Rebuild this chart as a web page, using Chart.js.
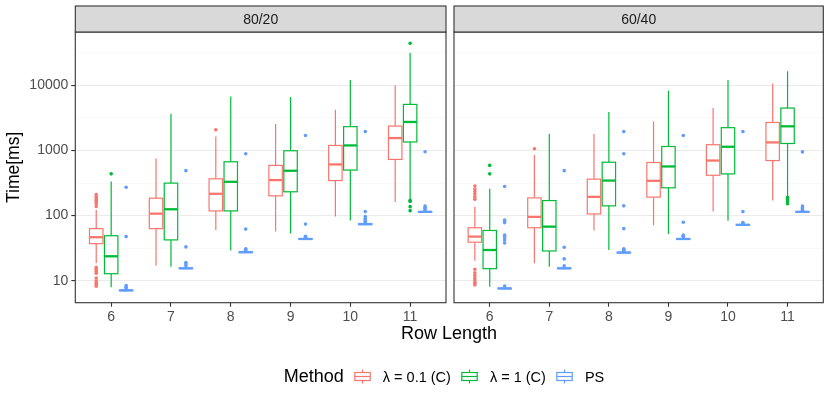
<!DOCTYPE html>
<html>
<head>
<meta charset="utf-8">
<script src="https://cdn.jsdelivr.net/npm/chart.js@4.4.1/dist/chart.umd.min.js"></script>
<style>
  body { margin: 0; background: #fff; overflow: hidden; font-family: "Liberation Sans", Arial, sans-serif; }
  #wrap { position: relative; width: 830px; height: 399px; background: #fff; }
  canvas { position: absolute; top: 0; }
  #xtitle { position: absolute; left: 69px; width: 760px; top: 323px; text-align: center; font-size: 18px; color: #000; }
  #legend { position: absolute; left: 87px; width: 724px; top: 366px; display: flex; justify-content: center; align-items: center; font-size: 14.5px; color: #000; }
  #legend .ttl { font-size: 18px; margin-right: 10px; }
  #legend svg { margin-right: 12px; }
  #legend .lab { margin-right: 10px; }
</style>
</head>
<body>
<div id="wrap">
  <canvas id="c1" width="450" height="399" style="left:0"></canvas>
  <canvas id="c2" width="380" height="399" style="left:450px"></canvas>
  <div id="xtitle">Row Length</div>
  <div id="legend"></div>
</div>
<script>
const rowLengths = [6, 7, 8, 9, 10, 11];
const methodNames = ['λ = 0.1 (C)', 'λ = 1 (C)', 'PS'];
const methodColors = ['#F8766D', '#00BA38', '#619CFF'];
const panelTitles = ['80/20', '60/40'];
const yTicks = [10, 100, 1000, 10000];
const yMinor = [31.6228, 316.228, 3162.28, 31622.8];

// [lower whisker, q1, median, q3, upper whisker] per row length
const lam01_8020 = [
  [18.5, 37, 46.5, 63, 122],
  [17, 63, 107, 185, 753],
  [60, 118, 216, 367, 1640],
  [57, 201, 351, 590, 2550],
  [97, 345, 610, 1195, 4230],
  [161, 728, 1550, 2370, 10000]
];
const lam01_8020_out = [
  [210, 195, 182, 172, 162, 150, 138, 16, 15, 14, 13, 11, 10, 9.4, 8.8, 8.2],
  [], [2080], [], [], []
];
const lam1_8020 = [
  [7.9, 12.8, 23.7, 49, 333],
  [16.4, 42.3, 125, 315, 3670],
  [29, 118, 330, 670, 6760],
  [53, 232, 488, 990, 6600],
  [84, 500, 1195, 2320, 12100],
  [179, 1350, 2740, 5100, 31500]
];
const lam1_8020_out = [[437], [], [], [], [], [44300, 172, 165, 137, 119]];
const ps_8020 = [
  [6.9, 7.0, 7.1, 7.2, 7.4],
  [15, 15.3, 15.5, 15.7, 16.3],
  [26.5, 27, 27.4, 27.8, 28.5],
  [42.5, 43.2, 43.7, 44.2, 45.2],
  [71, 72.5, 74, 75, 77],
  [110, 112.5, 114, 115.5, 118]
];
const ps_8020_out = [
  [273, 47.5, 8.4, 7.9, 7.7],
  [490, 33, 19, 18, 17],
  [890, 62, 31, 30, 29],
  [1700, 74, 48, 47, 46],
  [1950, 115, 97, 90, 86, 82, 78],
  [955, 140, 133, 127, 122]
];

const lam01_6040 = [
  [20.3, 39, 47.5, 65, 137],
  [18.5, 65, 95.6, 187, 850],
  [59, 106, 194, 363, 1790],
  [71, 192, 342, 653, 2790],
  [115, 416, 700, 1225, 4480],
  [170, 700, 1330, 2690, 10700]
];
const lam01_6040_out = [
  [285, 255, 235, 215, 195, 178, 15, 13.2, 12, 11, 10.2, 9.5, 9, 8.6],
  [1060], [], [], [], []
];
const lam1_6040 = [
  [8.1, 15.3, 29.6, 59, 258],
  [16.4, 28.6, 67.6, 170, 1800],
  [29.6, 141, 345, 660, 3890],
  [52, 267, 568, 1150, 8280],
  [83, 437, 1140, 2240, 12100],
  [200, 1280, 2350, 4480, 16400]
];
const lam1_6040_out = [[590, 437], [], [], [], [], [190, 178, 165, 152]];
const ps_6040 = [
  [7.3, 7.5, 7.6, 7.7, 7.9],
  [15, 15.3, 15.5, 15.7, 16.3],
  [26, 26.6, 27, 27.4, 28],
  [42.5, 43.2, 43.7, 44.2, 45.5],
  [70, 71, 72, 73, 74],
  [110, 112.5, 114, 115.5, 118]
];
const ps_6040_out = [
  [280, 85, 78, 50, 46, 42, 38, 8.3],
  [490, 32.6, 21.6, 17],
  [1950, 890, 141, 63, 31, 30, 29, 28],
  [1700, 79, 50, 48, 47],
  [1950, 115, 78, 76],
  [950, 140, 132, 126, 121]
];

const panels = [
  { boxes: [lam01_8020, lam1_8020, ps_8020], outliers: [lam01_8020_out, lam1_8020_out, ps_8020_out] },
  { boxes: [lam01_6040, lam1_6040, ps_6040], outliers: [lam01_6040_out, lam1_6040_out, ps_6040_out] }
];

const FONT = '"Liberation Sans", Arial, sans-serif';
const dodge = [-0.25, 0, 0.25];
const halfBox = 0.1125;

// boxes + whiskers, drawn under the outlier points
const boxPlugin = {
  id: 'boxes',
  beforeDatasetsDraw(chart) {
    const p = panels[chart.options.panelIndex];
    const x = chart.scales.x, y = chart.scales.y;
    const ctx = chart.ctx;
    ctx.save();
    p.boxes.forEach((series, m) => {
      ctx.strokeStyle = methodColors[m];
      series.forEach((s, i) => {
        const cx = x.getPixelForValue(i + 1 + dodge[m]);
        const x0 = x.getPixelForValue(i + 1 + dodge[m] - halfBox);
        const x1 = x.getPixelForValue(i + 1 + dodge[m] + halfBox);
        const [lo, q1, med, q3, hi] = s.map(v => y.getPixelForValue(v));
        ctx.lineWidth = 1.2;
        ctx.beginPath();
        ctx.moveTo(cx, hi); ctx.lineTo(cx, q3);
        ctx.moveTo(cx, q1); ctx.lineTo(cx, lo);
        ctx.stroke();
        ctx.fillStyle = '#fff';
        ctx.fillRect(x0, q3, x1 - x0, q1 - q3);
        ctx.strokeRect(x0, q3, x1 - x0, q1 - q3);
        ctx.lineWidth = 2.3;
        ctx.beginPath();
        ctx.moveTo(x0, med); ctx.lineTo(x1, med);
        ctx.stroke();
      });
    });
    ctx.restore();
  },
  afterDraw(chart) {
    const a = chart.chartArea, ctx = chart.ctx;
    ctx.save();
    ctx.strokeStyle = '#333';
    ctx.lineWidth = 1.1;
    ctx.strokeRect(a.left, a.top, a.right - a.left, a.bottom - a.top);
    // facet strip
    ctx.fillStyle = '#D9D9D9';
    ctx.fillRect(a.left, 6, a.right - a.left, a.top - 6);
    ctx.strokeRect(a.left, 6, a.right - a.left, a.top - 6);
    ctx.fillStyle = '#1A1A1A';
    ctx.font = '14px ' + FONT;
    ctx.textAlign = 'center';
    ctx.textBaseline = 'middle';
    ctx.fillText(panelTitles[chart.options.panelIndex], (a.left + a.right) / 2, (6 + a.top) / 2 + 1);
    ctx.restore();
  }
};

function makePanel(id, idx, isLeft) {
  const p = panels[idx];
  const datasets = p.outliers.map((series, m) => ({
    label: methodNames[m],
    data: series.flatMap((vals, i) => vals.map(v => ({ x: i + 1 + dodge[m], y: v }))),
    backgroundColor: methodColors[m],
    borderWidth: 0,
    pointRadius: 1.8
  }));
  return new Chart(document.getElementById(id), {
    type: 'scatter',
    data: { datasets },
    plugins: [boxPlugin],
    options: {
      panelIndex: idx,
      responsive: false,
      animation: false,
      devicePixelRatio: 1,
      events: [],
      layout: { padding: { top: 32, bottom: 72.3, left: isLeft ? 0 : 2.7, right: isLeft ? 4 : 6.7 } },
      plugins: { legend: { display: false }, tooltip: { enabled: false } },
      scales: {
        x: {
          type: 'linear', min: 0.4, max: 6.6,
          afterBuildTicks: s => { s.ticks = rowLengths.map((r, i) => ({ value: i + 1 })); },
          afterFit: s => { s.height = 24; },
          ticks: { callback: v => String(rowLengths[v - 1]), color: '#4D4D4D', font: { size: 14, family: FONT }, padding: 2, maxRotation: 0 },
          grid: { drawOnChartArea: false, drawTicks: true, tickLength: 4, tickColor: '#333', tickWidth: 1.1 },
          border: { display: false }
        },
        y: {
          type: 'logarithmic', min: 4.59, max: 66000,
          afterBuildTicks: s => { s.ticks = yTicks.concat(yMinor).map(v => ({ value: v })); },
          afterFit: s => { s.width = isLeft ? 75.3 : 0; },
          ticks: { display: isLeft, autoSkip: false, callback: v => yTicks.includes(v) ? String(v) : '', color: '#4D4D4D', font: { size: 14, family: FONT }, padding: 3 },
          grid: {
            color: c => (c.tick && yTicks.includes(c.tick.value)) ? '#EBEBEB' : '#F4F4F4',
            lineWidth: c => (c.tick && yTicks.includes(c.tick.value)) ? 1.1 : 0.6,
            tickColor: c => (isLeft && c.tick && yTicks.includes(c.tick.value)) ? '#333' : 'rgba(0,0,0,0)',
            drawTicks: isLeft, tickLength: 4, tickWidth: 1.1
          },
          border: { display: false },
          title: { display: isLeft, text: 'Time[ms]', color: '#000', font: { size: 17.5, family: FONT }, padding: { top: 4, bottom: 0 } }
        }
      }
    }
  });
}

makePanel('c1', 0, true);
makePanel('c2', 1, false);

// legend
const legend = document.getElementById('legend');
let html = '<span class="ttl">Method</span>';
methodNames.forEach((n, m) => {
  const c = methodColors[m];
  html += '<svg width="17" height="17"><line x1="8.5" y1="1.5" x2="8.5" y2="15.5" stroke="' + c + '" stroke-width="1.2"/>' +
    '<rect x="0.8" y="4.5" width="15.4" height="8" fill="#fff" stroke="' + c + '" stroke-width="1.2"/>' +
    '<line x1="0.8" y1="8.5" x2="16.2" y2="8.5" stroke="' + c + '" stroke-width="1.2"/></svg>' +
    '<span class="lab">' + n + '</span>';
});
legend.innerHTML = html;
</script>
</body>
</html>
